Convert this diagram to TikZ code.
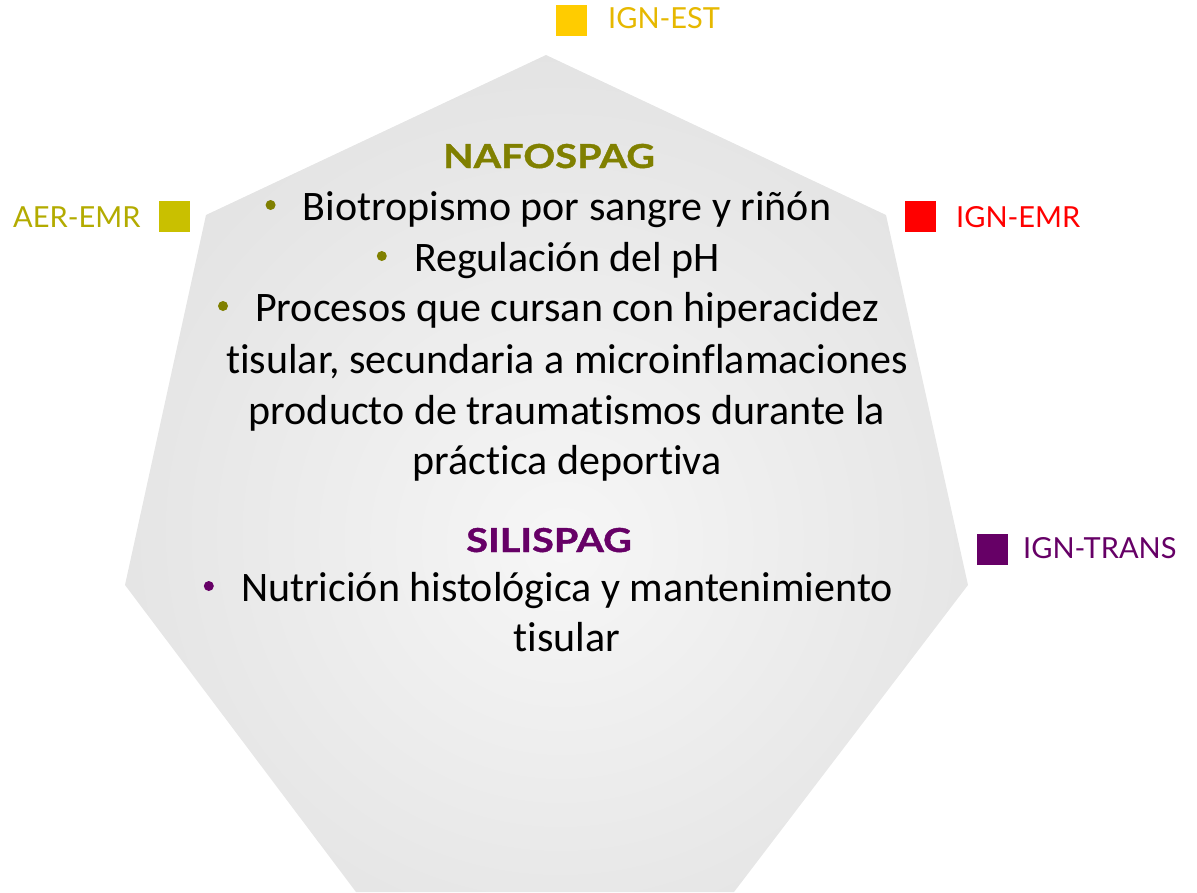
\documentclass[tikz,border=0pt]{standalone}
\usepackage{fontspec}
\setmainfont[Ligatures=NoCommon, RawFeature=-liga, RawFeature=-calt, RawFeature=-clig]{Carlito}
\newfontfamily\labelfont{Lato}
\newfontfamily\titlefont[FakeStretch=1.2, BoldFeatures={FakeBold=1.2}]{Lato}
\usetikzlibrary{calc}
\definecolor{nafo}{HTML}{808000}
\definecolor{sili}{HTML}{660066}
\definecolor{estsq}{HTML}{FFCC00}
\definecolor{esttx}{HTML}{E6B800}
\definecolor{aersq}{HTML}{C9C000}
\definecolor{aertx}{HTML}{B3AB00}
\definecolor{emr}{HTML}{FF0000}
\definecolor{gc}{gray}{0.965}
\definecolor{ge}{gray}{0.85}
\pgfdeclareradialshading{hept}{\pgfpoint{1bp}{-4.5bp}}{color(0bp)=(gc); color(44bp)=(ge); color(100bp)=(ge)}
\begin{document}
\begin{tikzpicture}[x=1pt,y=-1pt,
  body/.style={font=\fontsize{42}{51}\selectfont, inner sep=0pt, anchor=base, text=black},
  ttl/.style={font=\titlefont\bfseries\fontsize{33}{40}\selectfont, inner sep=0pt, anchor=base},
  bul/.style={circle, inner sep=0pt, minimum size=10pt},
  sq/.style={inner sep=0pt, minimum width=31pt, minimum height=31pt, anchor=north west},
  lab/.style={font=\labelfont\fontsize{29}{35}\selectfont, inner sep=0pt, anchor=base west}]
\useasboundingbox (0,0) rectangle (1197,892);
\shade[shading=hept] (546,55) -- (886,215) -- (968,585) -- (734,892) -- (356,892) -- (125,585) -- (206,215) -- cycle;
% legend
\node[sq, fill=estsq] (s1) at (556,5) {};
\node[lab, text=esttx] (t1) at (608,28) {IGN-EST};
\node[sq, fill=aersq] (s2) at (159,201) {};
\node[lab, text=aertx] (t2) at (13,227) {AER-EMR};
\node[sq, fill=emr] (s3) at (905,201) {};
\node[lab, text=emr] (t3) at (956,227) {IGN-EMR};
\node[sq, fill=sili] (s4) at (977,534) {};
\node[lab, text=sili] (t4) at (1023,558) {IGN-TRANS};
% NAFOSPAG
\node[ttl, text=nafo] (naf) at (549,168) {NAFOSPAG};
\node[body] (l1) at (567,220) {Biotropismo por sangre y riñón};
\node[body] (l2) at (567,271) {Regulación del pH};
\node[body] (l3) at (567,321) {Procesos que cursan con hiperacidez};
\node[body] (l4) at (567,373) {tisular, secundaria a microinflamaciones};
\node[body] (l5) at (567,424) {producto de traumatismos durante la};
\node[body] (l6) at (567,474) {práctica deportiva};
\node[bul, fill=nafo] (b1) at ($(l1.base west)+(-32,-15)$) {};
\node[bul, fill=nafo] (b2) at ($(l2.base west)+(-32,-15)$) {};
\node[bul, fill=nafo] (b3) at ($(l3.base west)+(-32,-15)$) {};
% SILISPAG
\node[ttl, text=sili] (sil) at (549,552) {SILISPAG};
\node[body] (n1) at (567,601) {Nutrición histológica y mantenimiento};
\node[body] (n2) at (567,651) {tisular};
\node[bul, fill=sili] (b4) at ($(n1.base west)+(-32,-15)$) {};
\end{tikzpicture}
\end{document}
